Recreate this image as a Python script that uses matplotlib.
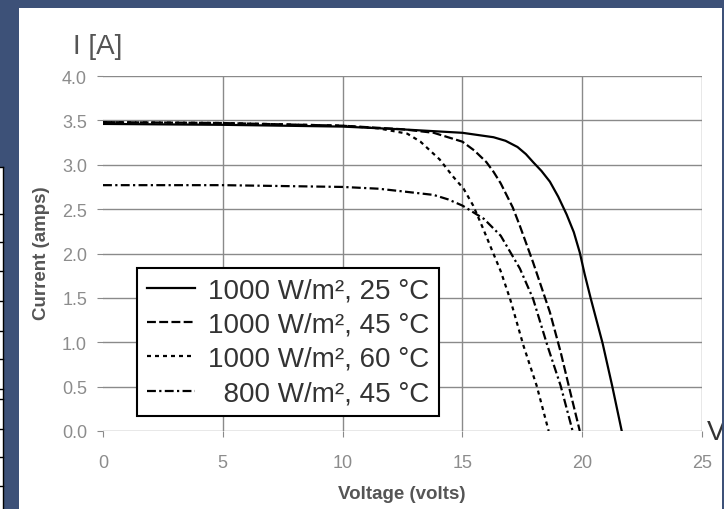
import matplotlib
matplotlib.use('Agg')
import matplotlib.pyplot as plt
from matplotlib.patches import Rectangle
from matplotlib.lines import Line2D

# values (volts, amps)
volt_25 = [0, 5, 10, 12.4, 15.0, 16.3, 16.8, 17.3, 17.65, 17.95, 18.3, 18.65, 19.0, 19.35, 19.65,
           19.9, 20.1, 20.35, 20.85, 21.25, 21.65]
amp_25 = [3.46, 3.45, 3.43, 3.40, 3.36, 3.31, 3.27, 3.20, 3.12, 3.03, 2.93, 2.81, 2.64, 2.44, 2.24,
          2.01, 1.77, 1.50, 0.99, 0.51, 0.0]

volt_45 = [0, 5, 10, 12.5, 13.8, 15.0, 15.5, 16.0, 16.3, 16.6, 17.1, 17.4, 17.95, 18.65, 19.1, 19.5, 19.9]
amp_45 = [3.48, 3.47, 3.44, 3.40, 3.36, 3.26, 3.16, 3.03, 2.92, 2.79, 2.52, 2.31, 1.90, 1.34, 0.89, 0.44, 0.0]

volt_60 = [0, 5, 10, 11.5, 12.7, 13.25, 14.05, 14.6, 15.05, 15.45, 15.85, 16.2, 16.6, 17.0, 17.55, 18.1, 18.6]
amp_60 = [3.48, 3.47, 3.44, 3.41, 3.35, 3.26, 3.06, 2.87, 2.73, 2.54, 2.29, 2.06, 1.80, 1.48, 0.96, 0.51, 0.0]

volt_800 = [0, 5, 10, 11.5, 12.5, 13.8, 14.4, 15.0, 15.9, 16.6, 17.4, 17.95, 18.55, 19.1, 19.6]
amp_800 = [2.77, 2.77, 2.75, 2.73, 2.70, 2.66, 2.61, 2.54, 2.39, 2.20, 1.83, 1.49, 0.96, 0.51, 0.0]

labels = ['1000 W/m\u00b2, 25 \u00b0C', '1000 W/m\u00b2, 45 \u00b0C',
          '1000 W/m\u00b2, 60 \u00b0C', '  800 W/m\u00b2, 45 \u00b0C']
x_ticks = [0, 5, 10, 15, 20, 25]
y_ticks = [0.0, 0.5, 1.0, 1.5, 2.0, 2.5, 3.0, 3.5, 4.0]

plt.rcParams['font.family'] = ['Liberation Sans', 'DejaVu Sans']

W, H = 724, 510
blue = '#3d5178'
grid_col = '#8a8a8a'
fig = plt.figure(figsize=(W / 100, H / 100), dpi=100, facecolor=blue)

# white slide panel
fig.add_artist(Rectangle((19 / W, 0), (722 - 19) / W, (H - 9) / H,
                         transform=fig.transFigure, facecolor='white', edgecolor='none', zorder=0))
# bit of a table peeking in on the left
fig.add_artist(Rectangle((0, 0), 3 / W, (H - 168) / H,
                         transform=fig.transFigure, facecolor='white', edgecolor='none', zorder=0))
fig.add_artist(Line2D([3 / W, 3 / W], [0, 1 - 168 / H], transform=fig.transFigure, color='black', lw=1))
for yy in [168, 215, 243, 272, 302, 332, 360, 390, 400, 430, 458, 487]:
    fig.add_artist(Line2D([0, 3 / W], [1 - yy / H] * 2, transform=fig.transFigure, color='black', lw=1))

ax = fig.add_axes([103 / W, 1 - 432 / H, 599 / W, 355 / H])
ax.set_facecolor('none')
for s in ax.spines.values():
    s.set_visible(False)
ax.set_xlim(0, 25)
ax.set_ylim(0, 4)

for y in y_ticks:
    ax.axhline(y, color=grid_col, lw=1, zorder=1)
for x in x_ticks[1:]:
    ax.axvline(x, color=grid_col, lw=1, zorder=1)

ax.set_xticks(x_ticks)
ax.set_yticks(y_ticks, labels=['%.1f' % v for v in y_ticks])
ax.tick_params(axis='y', direction='out', length=4.5, width=0.8, color=grid_col,
               pad=7, labelsize=13, labelcolor='#8c8c8c')
ax.tick_params(axis='x', direction='out', length=4, width=0.8, color=grid_col,
               pad=12.5, labelsize=13, labelcolor='#8c8c8c')

lw = 1.6
l1, = ax.plot(volt_25, amp_25, color='black', lw=lw, zorder=3)
l2, = ax.plot(volt_45, amp_45, color='black', lw=lw, ls=(0, (4, 1.5)), zorder=3)
l3, = ax.plot(volt_60, amp_60, color='black', lw=lw, ls=(0, (1.8, 1.8)), zorder=3)
l4, = ax.plot(volt_800, amp_800, color='black', lw=lw, ls=(0, (4, 1.5, 1, 1.5)), zorder=3)

leg = ax.legend([l1, l2, l3, l4], labels, loc='lower left', bbox_to_anchor=(34 / 599, 15 / 355),
                borderaxespad=0, fancybox=False, edgecolor='black', framealpha=1,
                prop={'size': 20}, handlelength=1.75, handletextpad=0.45,
                labelspacing=0.3, borderpad=0.35, labelcolor='#333333')
leg.get_frame().set_linewidth(1.5)

fig.text(73 / W, 1 - 47.5 / H, 'I [A]', fontsize=20, color='#555555', va='center', ha='left')
fig.text(42 / W, 1 - 253 / H, 'Current (amps)', fontsize=13.5, fontweight='bold',
         color='#555555', rotation=90, va='center', ha='center')
fig.text(402 / W, 1 - 495 / H, 'Voltage (volts)', fontsize=13.5, fontweight='bold',
         color='#555555', va='center', ha='center')
fig.text(707 / W, 1 - 433 / H, 'V', fontsize=20, color='#333333', va='center', ha='left', zorder=5)

# thin blue edge on the right cuts the V
fig.add_artist(Rectangle((722 / W, 0), 2 / W, 1, transform=fig.transFigure,
                         facecolor=blue, edgecolor='none', zorder=10))

fig.savefig('out.png', dpi=100, facecolor=fig.get_facecolor())
